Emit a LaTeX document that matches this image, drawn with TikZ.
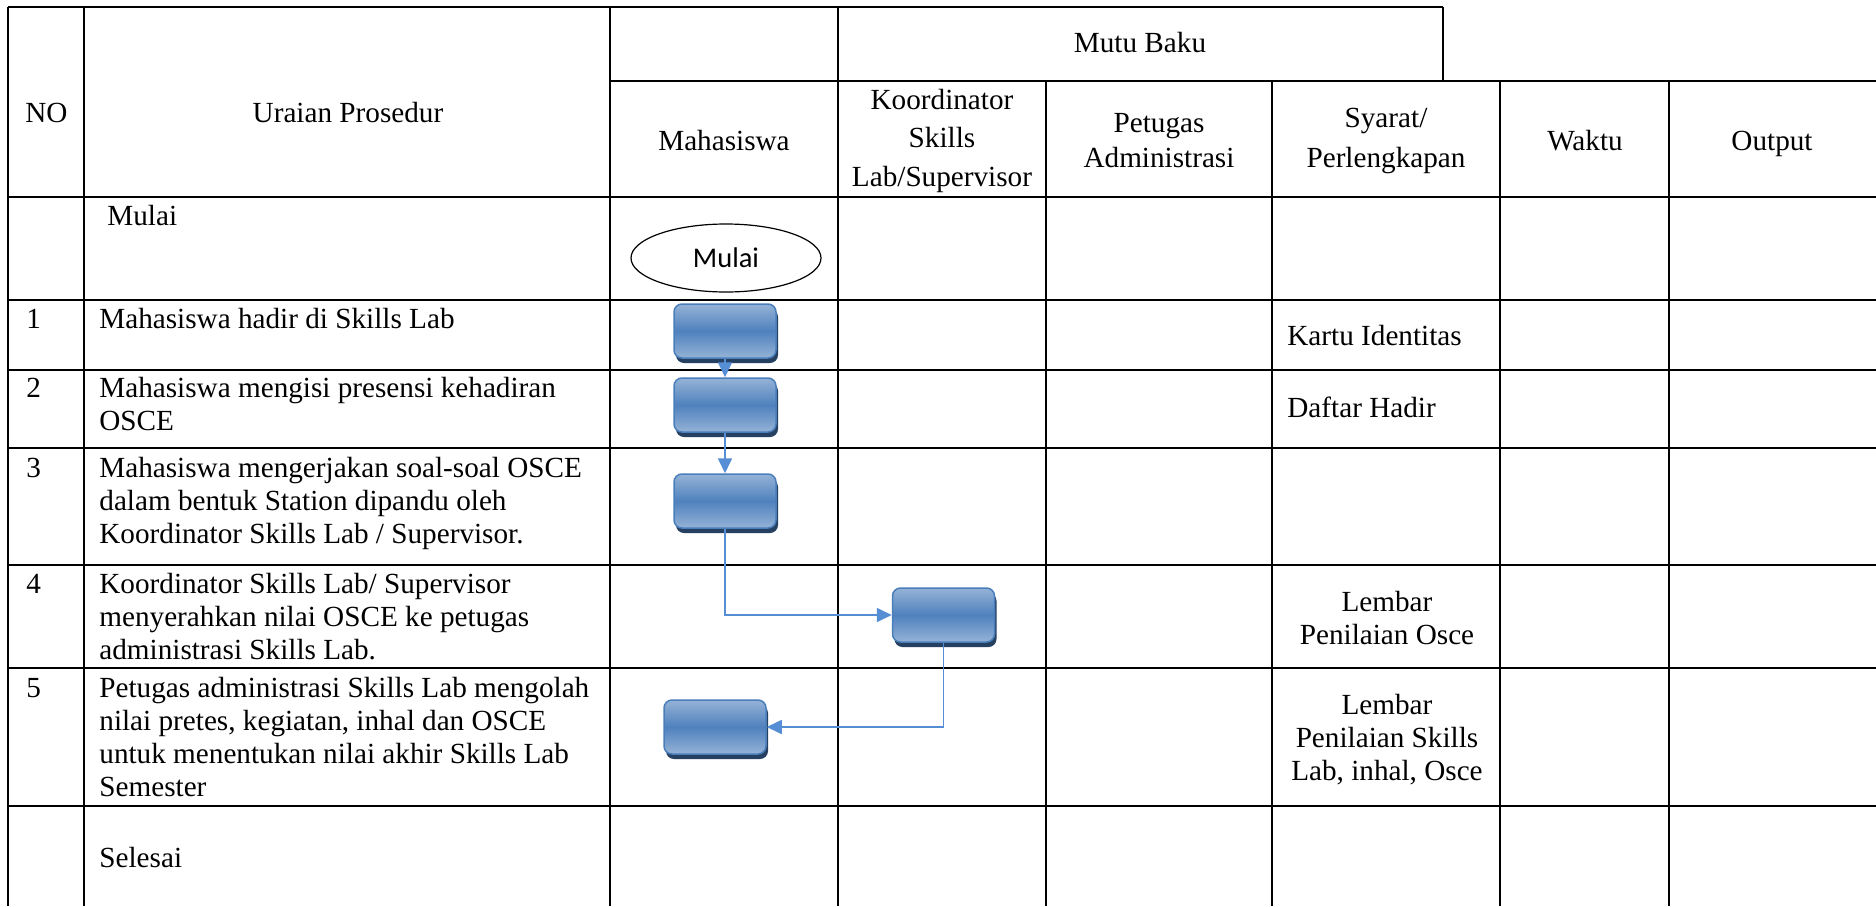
\documentclass[tikz,border=0pt]{standalone}
\usepackage{fontspec}
\setmainfont{Liberation Serif}
\newfontfamily\calib{Carlito}
\usetikzlibrary{shapes.geometric,shadows,arrows.meta}
\definecolor{arrowc}{RGB}{85,142,213}
\definecolor{boxlight}{RGB}{149,179,215}
\definecolor{boxmid}{RGB}{79,129,189}
\definecolor{boxline}{RGB}{74,126,187}
\definecolor{boxshadow}{RGB}{38,64,97}
\begin{document}
\begin{tikzpicture}[x=0.5pt,y=-0.5pt,
  grid/.style={line width=0.9pt, black},
  txt/.style={inner sep=0pt, font=\fontsize{14.6}{16.6}\selectfont},
  tl/.style={txt, anchor=base west, align=left},
  tc/.style={txt, anchor=base, align=center},
  procbox/.style={rectangle, rounded corners=4pt, minimum width=51pt, minimum height=27pt, inner sep=0pt,
    draw=boxline, line width=0.75pt, top color=boxlight, bottom color=boxlight, middle color=boxmid,
    drop shadow={shadow xshift=1pt, shadow yshift=-2.5pt, fill=boxshadow, opacity=1}},
  flow/.style={draw=arrowc, line width=0.85pt, -{Triangle[length=7.5pt,width=7pt]}},
  startnode/.style={ellipse, draw=black, line width=0.6pt, minimum width=95pt, minimum height=34pt,
    inner sep=0pt, font=\calib\fontsize{14.25}{17}\selectfont}
]
\fill[white] (0,0) rectangle (1876,906);
\useasboundingbox (0,0) rectangle (1876,906);

% grid lines
\draw[grid] (8,7) -- (1443,7);
\draw[grid] (1443,7) -- (1443,81);
\draw[grid] (610,81) -- (1876,81);
\foreach \yy in {197,300,370,448,565,668,806} {\draw[grid] (8,\yy) -- (1876,\yy);}
\foreach \xx in {8,84,610,838} {\draw[grid] (\xx,7) -- (\xx,906);}
\foreach \xx in {1046,1272,1500,1669} {\draw[grid] (\xx,81) -- (\xx,906);}

% header texts (multi-line nodes are placed at the baseline of their last line)
\node[tl] (hno) at (25,122) {NO};
\node[tc] (hur) at (348,122) {Uraian Prosedur};
\node[tc] (hmutu) at (1140,52) {Mutu Baku};
\node[tc] (hmhs) at (724,150) {Mahasiswa};
\node[tc, font=\fontsize{14.6}{19.25}\selectfont] (hkoord) at (942,186) {Koordinator\\Skills\\Lab/Supervisor};
\node[tc, font=\fontsize{14.6}{17.5}\selectfont] (hpet) at (1159,167) {Petugas\\Administrasi};
\node[tc, font=\fontsize{14.6}{20}\selectfont] (hsyar) at (1386,167) {Syarat/\\Perlengkapan};
\node[tc] (hwaktu) at (1585,150) {Waktu};
\node[tc] (hout) at (1772,150) {Output};

% row texts
\node[tl] (tmulai) at (107,225) {Mulai};
\node[tl] (n1) at (26,328) {1};
\node[tl] (t1) at (99,328) {Mahasiswa hadir di Skills Lab};
\node[tl] (n2) at (26,397) {2};
\node[tl] (t2) at (99,430.2) {Mahasiswa mengisi presensi kehadiran\\OSCE};
\node[tl] (n3) at (26,477) {3};
\node[tl] (t3) at (99,543.4) {Mahasiswa mengerjakan soal-soal OSCE\\dalam bentuk Station dipandu oleh\\Koordinator Skills Lab / Supervisor.};
\node[tl] (n4) at (26,593) {4};
\node[tl] (t4) at (99,659.4) {Koordinator Skills Lab/ Supervisor\\menyerahkan nilai OSCE ke petugas\\administrasi Skills Lab.};
\node[tl] (n5) at (26,697) {5};
\node[tl] (t5) at (99,796.6) {Petugas administrasi Skills Lab mengolah\\nilai pretes, kegiatan, inhal dan OSCE\\untuk menentukan nilai akhir Skills Lab\\Semester};
\node[tl] (tsel) at (99,867) {Selesai};

% syarat column
\node[tl] (s1) at (1287,345) {Kartu Identitas};
\node[tl] (s2) at (1287,417) {Daftar Hadir};
\node[tc] (s4) at (1387,644.2) {Lembar\\Penilaian Osce};
\node[tc] (s5) at (1387,780.4) {Lembar\\Penilaian Skills\\Lab, inhal, Osce};

% flow
\node[startnode] (mulai) at (726,258) {Mulai};
\node[procbox] (b1) at (725,331) {};
\node[procbox] (b2) at (725,405) {};
\node[procbox] (b3) at (725,501) {};
\node[procbox] (b4) at (943.5,615) {};
\node[procbox] (b5) at (715,727) {};

\draw[flow] (b1.south) -- (b2.north);
\draw[flow] (b2.south) -- (b3.north);
\draw[flow] (b3.south) |- (b4.west);
\draw[flow] (b4.south) |- (b5.east);
\end{tikzpicture}
\end{document}
